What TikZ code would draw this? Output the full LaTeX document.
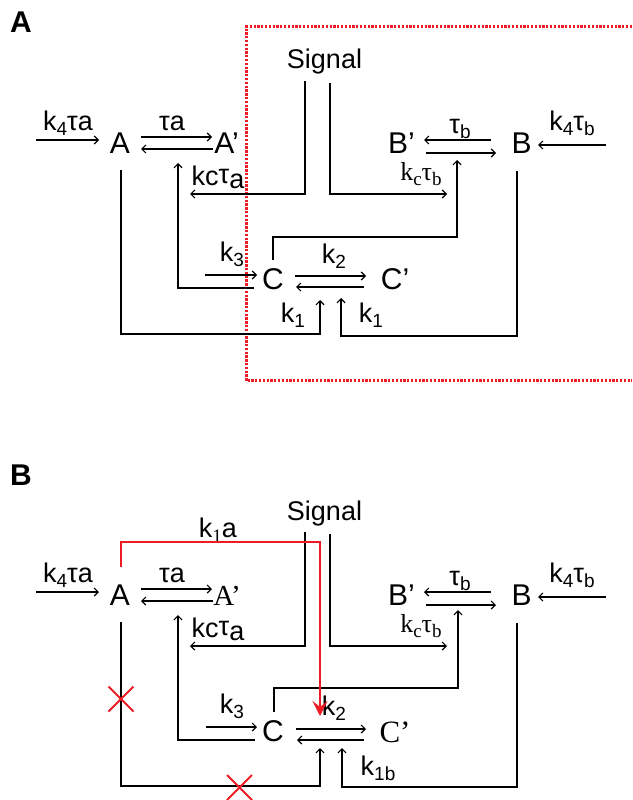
\documentclass[tikz,border=0pt]{standalone}
\usepackage{fontspec}
\setmainfont{Liberation Sans}
\newfontfamily\serif{Liberation Serif}
\usetikzlibrary{arrows.meta}
\definecolor{myred}{RGB}{237,28,36}
\newcommand{\lo}[1]{\raisebox{-5pt}{\fontsize{19}{19}\selectfont #1}}
\newcommand{\hi}[1]{\raisebox{2pt}{#1}}
\newcommand{\dn}[1]{\raisebox{-3pt}{#1}}
\tikzset{
  ln/.style={draw=black, line width=1.2pt},
  arr/.style={ln, -{Straight Barb[length=4pt,width=8pt]}},
  big/.style={font=\fontsize{30}{30}\selectfont, inner sep=0pt, anchor=base},
  bigser/.style={font=\serif\fontsize{29}{29}\selectfont, inner sep=0pt, anchor=base},
  lab/.style={font=\fontsize{27}{27}\selectfont, inner sep=0pt, anchor=base},
  labser/.style={font=\serif\fontsize{26}{26}\selectfont, inner sep=0pt, anchor=base},
  sig/.style={font=\fontsize{27}{27}\selectfont, inner sep=0pt, anchor=base},
  panlbl/.style={font=\fontsize{30}{30}\selectfont\bfseries, inner sep=0pt, anchor=base},
  redarr/.style={draw=myred, line width=2.5pt, -{Stealth[length=15pt,width=15pt,inset=6pt]}},
  redbox/.style={draw=myred, line width=3pt, dash pattern=on 2.3pt off 1.5pt},
  cross/.style={draw=myred, line width=2pt},
}
\begin{document}
\begin{tikzpicture}[x=1pt,y=-1pt]
\useasboundingbox (0,0) rectangle (632,800);
% ================= Panel A =================
\node[panlbl] (labA) at (21,33) {A};
\draw[redbox] (632,27) coordinate (bx1) -- (246,27) coordinate (bx2) -- (246,380.5) coordinate (bx3) -- (632,380.5) coordinate (bx4);
\node[sig] (sigA) at (324.5,68) {Signal};
\node[big] (nA) at (120,153) {A};
\node[big] (nAp) at (226.5,153) {A’};
\node[big] (nBp) at (401.5,153) {B’};
\node[big] (nB) at (521.5,153) {B};
\node[big] (nC) at (273,289) {C};
\node[big] (nCp) at (395,289) {C’};
\node[lab] (lk4a) at (68,130) {k\lo{4}τa};
\node[lab] (lta) at (172,130) {τa};
\node[lab] (lkca) at (218,185) {kc\hi{τ}\dn{a}};
\node[lab] (ltb) at (460,133) {τ\lo{b}};
\node[lab] (lk4b) at (572,130) {k\lo{4}τ\lo{b}};
\node[labser] (lkcb) at (421,180) {k\lo{c}τ\lo{b}};
\node[lab] (lk3) at (232,261) {k\lo{3}};
\node[lab] (lk2) at (334,263) {k\lo{2}};
\node[lab] (lk1l) at (293,322) {k\lo{1}};
\node[lab] (lk1r) at (371,322) {k\lo{1}};
% connectors
\draw[arr] (36,140) coordinate (inA) -- (99,140) coordinate (inAe);
\draw[arr] (141,137) coordinate (aa1) -- (212,137) coordinate (aa2);
\draw[arr] (213,149) coordinate (aa3) -- (141,149) coordinate (aa4);
\draw[arr] (305,81) coordinate (sl1) -- (305,194) -- (190,194) coordinate (sl2);
\draw[arr] (330,83) coordinate (sr1) -- (330,194) -- (447,194) coordinate (sr2);
\draw[arr] (491,140) coordinate (bb1) -- (424,140) coordinate (bb2);
\draw[arr] (426,153) coordinate (bb3) -- (496,153) coordinate (bb4);
\draw[arr] (606,145) coordinate (inB) -- (538,145) coordinate (inBe);
\draw[arr] (254,288) coordinate (ca1) -- (178,288) -- (178,163) coordinate (ca2);
\draw[arr] (121,170) coordinate (ac1) -- (121,334) -- (320,334) -- (320,300) coordinate (ac2);
\draw[arr] (517,171) coordinate (bc1) -- (517,336) -- (341,336) -- (341,298) coordinate (bc2);
\draw[arr] (273,260) coordinate (cb1) -- (273,237) -- (457,237) -- (457,160) coordinate (cb2);
\draw[arr] (205,275) coordinate (inC) -- (257,275) coordinate (inCe);
\draw[arr] (295,276) coordinate (cc1) -- (366,276) coordinate (cc2);
\draw[arr] (364,287) coordinate (cc3) -- (296,287) coordinate (cc4);
% ================= Panel B =================
\begin{scope}[yshift=-452pt]
\node[panlbl] (labB) at (21,33) {B};
\node[sig] (sigB) at (324.5,68) {Signal};
\node[big] (mA) at (120,153) {A};
\node[bigser] (mAp) at (227,153) {A’};
\node[big] (mBp) at (401.5,153) {B’};
\node[big] (mB) at (521.5,153) {B};
\node[big] (mC) at (273,289) {C};
\node[font=\serif\fontsize{31}{31}\selectfont, inner sep=0pt, anchor=base] (mCp) at (395,290) {C’};
\node[lab] (mk4a) at (68,130) {k\lo{4}τa};
\node[lab] (mta) at (172,130) {τa};
\node[lab] (mkca) at (218,185) {kc\hi{τ}\dn{a}};
\node[lab] (mtb) at (460,133) {τ\lo{b}};
\node[lab] (mk4b) at (572,130) {k\lo{4}τ\lo{b}};
\node[labser] (mkcb) at (421,180) {k\lo{c}τ\lo{b}};
\node[lab] (mk3) at (232,261) {k\lo{3}};
\node[lab] (mk2) at (334,263) {k\lo{2}};
\node[lab] (mk1b) at (378,323) {k\lo{1b}};
\node[lab] (mk1a) at (218,85) {k\lo{\serif 1}a};
\draw[arr] (36,140) coordinate (minA) -- (99,140) coordinate (minAe);
\draw[arr] (141,137) coordinate (maa1) -- (212,137) coordinate (maa2);
\draw[arr] (213,149) coordinate (maa3) -- (141,149) coordinate (maa4);
\draw[arr] (305,80) coordinate (msl1) -- (305,194) -- (190,194) coordinate (msl2);
\draw[arr] (330,82) coordinate (msr1) -- (330,194) -- (447,194) coordinate (msr2);
\draw[arr] (491,140) coordinate (mbb1) -- (424,140) coordinate (mbb2);
\draw[arr] (426,153) coordinate (mbb3) -- (496,153) coordinate (mbb4);
\draw[arr] (606,145) coordinate (minB) -- (538,145) coordinate (minBe);
\draw[arr] (255,288) coordinate (mca1) -- (178,288) -- (178,163) coordinate (mca2);
\draw[arr] (121,170) coordinate (mac1) -- (121,334) -- (320,334) -- (320,296) coordinate (mac2);
\draw[arr] (517,171) coordinate (mbc1) -- (517,335) -- (342,335) -- (342,296) coordinate (mbc2);
\draw[arr] (274,260) coordinate (mcb1) -- (274,236) -- (458,236) -- (458,158) coordinate (mcb2);
\draw[arr] (206,275) coordinate (minC) -- (257,275) coordinate (minCe);
\draw[arr] (296,277) coordinate (mcc1) -- (366,277) coordinate (mcc2);
\draw[arr] (364,288) coordinate (mcc3) -- (297,288) coordinate (mcc4);
% red pathway
\draw[redarr] (121,115) coordinate (r1) -- (121,90) -- (320,90) -- (320,264) coordinate (r2);
\draw[cross] (108.5,234.5) -- (133.5,259.5) (108.5,259.5) -- (133.5,234.5);
\draw[cross] (227,323) -- (252,348) (227,348) -- (252,323);
\end{scope}
\end{tikzpicture}
\end{document}
